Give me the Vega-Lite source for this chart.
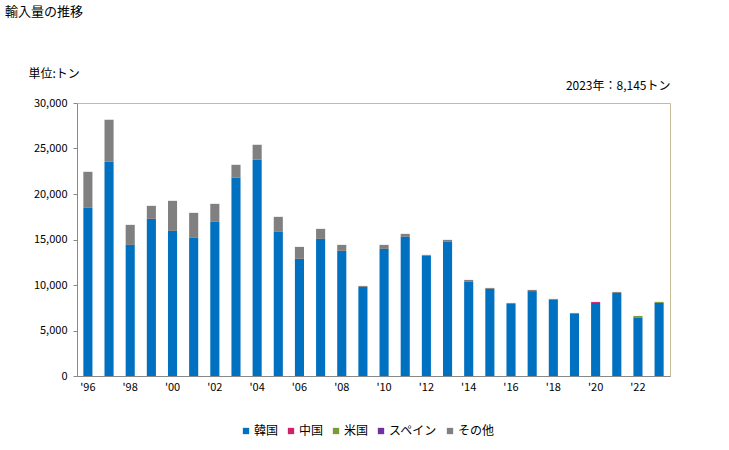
{
  "$schema": "https://vega.github.io/schema/vega-lite/v6.json",
  "autosize": "none",
  "width": 593,
  "height": 273,
  "padding": {"left": 77, "top": 103, "right": 59, "bottom": 74},
  "background": "white",
  "config": {
    "font": "Noto Sans CJK JP",
    "view": {"stroke": "#c4bc96", "strokeWidth": 1},
    "axis": {"labelFont": "Noto Sans CJK JP", "titleFont": "Noto Sans CJK JP", "labelColor": "#000", "titleColor": "#000", "grid": false},
    "legend": {"labelFont": "Noto Sans CJK JP"}
  },
  "title": {
    "text": "輸入量の推移",
    "anchor": "start",
    "frame": "group",
    "fontSize": 13,
    "fontWeight": "normal",
    "color": "#000",
    "font": "Noto Sans CJK JP",
    "dx": -72,
    "offset": 48
  },
  "data": {
    "values": [
      {"year": 1996, "country": "韓国", "value": 18480},
      {"year": 1996, "country": "その他", "value": 3960},
      {"year": 1997, "country": "韓国", "value": 23540},
      {"year": 1997, "country": "その他", "value": 4620},
      {"year": 1998, "country": "韓国", "value": 14410},
      {"year": 1998, "country": "その他", "value": 2200},
      {"year": 1999, "country": "韓国", "value": 17270},
      {"year": 1999, "country": "その他", "value": 1430},
      {"year": 2000, "country": "韓国", "value": 15950},
      {"year": 2000, "country": "その他", "value": 3300},
      {"year": 2001, "country": "韓国", "value": 15180},
      {"year": 2001, "country": "その他", "value": 2750},
      {"year": 2002, "country": "韓国", "value": 16940},
      {"year": 2002, "country": "その他", "value": 1980},
      {"year": 2003, "country": "韓国", "value": 21780},
      {"year": 2003, "country": "その他", "value": 1430},
      {"year": 2004, "country": "韓国", "value": 23760},
      {"year": 2004, "country": "その他", "value": 1650},
      {"year": 2005, "country": "韓国", "value": 15840},
      {"year": 2005, "country": "その他", "value": 1650},
      {"year": 2006, "country": "韓国", "value": 12870},
      {"year": 2006, "country": "その他", "value": 1320},
      {"year": 2007, "country": "韓国", "value": 15070},
      {"year": 2007, "country": "その他", "value": 1100},
      {"year": 2008, "country": "韓国", "value": 13750},
      {"year": 2008, "country": "その他", "value": 660},
      {"year": 2009, "country": "韓国", "value": 9790},
      {"year": 2009, "country": "その他", "value": 110},
      {"year": 2010, "country": "韓国", "value": 13970},
      {"year": 2010, "country": "その他", "value": 440},
      {"year": 2011, "country": "韓国", "value": 15290},
      {"year": 2011, "country": "その他", "value": 330},
      {"year": 2012, "country": "韓国", "value": 13200},
      {"year": 2012, "country": "その他", "value": 110},
      {"year": 2013, "country": "韓国", "value": 14740},
      {"year": 2013, "country": "その他", "value": 220},
      {"year": 2014, "country": "韓国", "value": 10340},
      {"year": 2014, "country": "その他", "value": 220},
      {"year": 2015, "country": "韓国", "value": 9570},
      {"year": 2015, "country": "その他", "value": 110},
      {"year": 2016, "country": "韓国", "value": 7920},
      {"year": 2016, "country": "その他", "value": 110},
      {"year": 2017, "country": "韓国", "value": 9240},
      {"year": 2017, "country": "中国", "value": 100},
      {"year": 2017, "country": "その他", "value": 120},
      {"year": 2018, "country": "韓国", "value": 8360},
      {"year": 2018, "country": "その他", "value": 110},
      {"year": 2019, "country": "韓国", "value": 6820},
      {"year": 2019, "country": "その他", "value": 110},
      {"year": 2020, "country": "韓国", "value": 8030},
      {"year": 2020, "country": "中国", "value": 110},
      {"year": 2021, "country": "韓国", "value": 9130},
      {"year": 2021, "country": "その他", "value": 110},
      {"year": 2022, "country": "韓国", "value": 6420},
      {"year": 2022, "country": "中国", "value": 50},
      {"year": 2022, "country": "米国", "value": 130},
      {"year": 2023, "country": "韓国", "value": 8030},
      {"year": 2023, "country": "米国", "value": 115}
    ]
  },
  "transform": [
    {"calculate": "indexof(['韓国','中国','米国','スペイン','その他'], datum.country)", "as": "ord"}
  ],
  "mark": {"type": "bar"},
  "encoding": {
    "x": {
      "field": "year",
      "type": "ordinal",
      "scale": {"paddingInner": 0.57, "paddingOuter": 0.3},
      "axis": {
        "labelAngle": 0,
        "ticks": false,
        "domainColor": "#888",
        "labelFontSize": 11,
        "labelPadding": 5,
        "labelExpr": "datum.value % 2 == 0 ? \"'\" + slice(toString(datum.value), 2) : ''",
        "title": "2023年：8,145トン",
        "titleFontSize": 12,
        "titleFontWeight": "normal",
        "titleAnchor": "end",
        "titleAlign": "right",
        "titleX": 593,
        "titleY": -291,
        "titleBaseline": "middle"
      }
    },
    "y": {
      "field": "value",
      "type": "quantitative",
      "aggregate": "sum",
      "stack": "zero",
      "scale": {"domain": [0, 30000], "nice": false},
      "axis": {
        "values": [0, 5000, 10000, 15000, 20000, 25000, 30000],
        "format": ",d",
        "labelFontSize": 11,
        "domainColor": "#888",
        "tickColor": "#888",
        "tickSize": 4,
        "labelPadding": 6,
        "title": "単位:トン",
        "titleAngle": 0,
        "titleAlign": "left",
        "titleBaseline": "middle",
        "titleFontSize": 12,
        "titleFontWeight": "normal",
        "titleX": -49,
        "titleY": -30
      }
    },
    "color": {
      "field": "country",
      "type": "nominal",
      "scale": {
        "domain": ["韓国", "中国", "米国", "スペイン", "その他"],
        "range": ["#0070c0", "#d0206a", "#7a9a3a", "#7030a0", "#808080"]
      },
      "legend": {
        "orient": "none",
        "legendX": 163,
        "legendY": 322,
        "direction": "horizontal",
        "title": null,
        "symbolType": "square",
        "symbolSize": 40,
        "symbolStrokeWidth": 0,
        "labelOffset": 2,
        "labelFontSize": 12,
        "columnPadding": 6
      }
    },
    "order": {"field": "ord", "type": "quantitative", "aggregate": "min"}
  }
}
